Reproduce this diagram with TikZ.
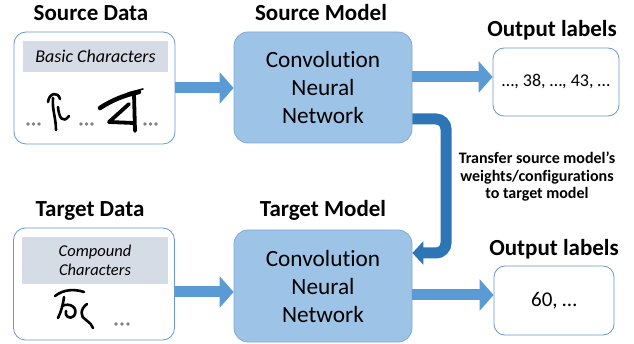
\documentclass[tikz,border=0pt]{standalone}
\usepackage{fontspec}
\setmainfont{Carlito}[Ligatures=NoCommon]
\usetikzlibrary{arrows.meta}
\definecolor{boxblue}{HTML}{9DC3E6}
\definecolor{modeledge}{HTML}{7FA9D8}
\definecolor{dataedge}{HTML}{6A98CF}
\definecolor{bandgray}{HTML}{D6DCE5}
\definecolor{flowblue}{HTML}{5B9BD5}
\definecolor{xferblue}{HTML}{2E75B6}
\definecolor{dotgray}{HTML}{7F7F7F}
\begin{document}
\begin{tikzpicture}[x=1pt,y=-1pt,
  title/.style={font=\fontsize{23}{27}\selectfont\bfseries, anchor=base, inner sep=0pt},
  databox/.style={draw=dataedge, line width=0.8pt, fill=white, rounded corners=12pt, minimum width=161pt, minimum height=112pt, inner sep=0pt},
  band/.style={fill=bandgray, inner sep=0pt, align=center},
  modelbox/.style={draw=modeledge, line width=0.8pt, fill=boxblue, rounded corners=14pt, minimum width=178pt, minimum height=111pt, inner sep=0pt, align=center, font=\fontsize{23.3}{28}\selectfont},
  outbox/.style={draw=dataedge, line width=0.8pt, fill=white, rounded corners=11pt, inner sep=0pt},
  flow/.style={draw=flowblue, line width=11pt, -{Triangle[width=31pt,length=14pt]}},
  xfer/.style={draw=xferblue, line width=11pt, rounded corners=10pt, -{Triangle[width=23pt,length=11pt]}},
  ink/.style={draw=black, line width=2.6pt, line cap=round, line join=round},
  dot/.style={fill=dotgray, draw=none}
]
\useasboundingbox (0,0) rectangle (634,344);

% titles
\node[title] (tsd) at (91,21) {Source Data};
\node[title] (ttd) at (90,217) {Target Data};
\node[title] (tsm) at (321,21) {Source Model};
\node[title] (ttm) at (323,217) {Target Model};
\node[title] (to1) at (552,37) {Output labels};
\node[title] (to2) at (554,256) {Output labels};

% data boxes
\node[databox] (sd) at (94.5,88) {};
\node[databox] (td) at (94,284) {};
\node[band, minimum width=145pt, minimum height=31pt, font=\fontsize{18}{21}\selectfont\itshape] (b1) at (95.5,56.5) {Basic Characters};
\node[band, minimum width=146pt, minimum height=47pt, font=\fontsize{16.5}{19.5}\selectfont\itshape] (b2) at (95,260.5) {Compound\\Characters};

% model boxes
\node[modelbox] (sm) at (323,87.5) {Convolution\\Neural\\Network};
\node[modelbox, minimum height=112pt] (tm) at (323,286) {Convolution\\Neural\\Network};

% output boxes
\node[outbox, minimum width=126pt, minimum height=68pt, font=\fontsize{18}{21}\selectfont] (o1) at (556,82) {…, 38, …, 43, …};
\node[outbox, minimum width=120pt, minimum height=69pt, font=\fontsize{21}{25}\selectfont] (o2) at (554,300.5) {60, …};

% transfer text
\node[font=\fontsize{16}{17.5}\selectfont\bfseries, align=center, inner sep=0pt] (xt) at (537,177) {Transfer source model’s\\weights/configurations\\to target model};

% connectors
\draw[flow] (sd.east) -- (sd.east -| sm.west);
\coordinate (s1) at ([yshift=10.5pt]sm.east);
\draw[flow] (s1) -- (s1 -| o1.west);
\coordinate (u1) at ([yshift=-8pt]td.east);
\draw[flow] (u1) -- (u1 -| tm.west);
\coordinate (v1) at ([yshift=-9pt]tm.east);
\draw[flow] (v1) -- (v1 -| o2.west);
\coordinate (t1) at ([yshift=-31.5pt]sm.east);
\coordinate (t2) at ([yshift=33pt]tm.east);
\coordinate (tc) at (446,0);
\draw[xfer] (t1) -- (t1 -| tc) -- (t2 -| tc) -- (t2);

% handwritten samples (source)
\foreach \x in {28,33.5,39,81,86.5,92,145,150.5,156} \fill[dot] (\x,124) circle (1.8pt);
\draw[ink] (48,102) .. controls (49,93) and (58,91) .. (60,99);
\draw[ink] (53,98) .. controls (52,110) and (56,118) .. (56,130);
\draw[ink] (58,107) .. controls (59,118) and (63,124) .. (69,116);
\draw[ink, line width=4.5pt] (100,108) .. controls (112,100) and (125,95) .. (139,92);
\draw[ink, line width=3.8pt] (134,94) -- (135,131);
\draw[ink, line width=3.8pt] (129,104) -- (109,122) -- (134,123);
\draw[ink, line width=1.6pt] (128,93) -- (143,89);

% handwritten samples (target)
\foreach \x in {116,122,128} \fill[dot] (\x,324) circle (1.8pt);
\draw[ink] (55,296) .. controls (64,289) and (75,289) .. (84,292);
\draw[ink] (64,297) .. controls (63,305) and (61,312) .. (58,318);
\draw[ink] (62,306) .. controls (70,302) and (79,308) .. (74,316) .. controls (70,320) and (64,316) .. (66,311);
\draw[ink] (87,304) .. controls (80,309) and (80,317) .. (86,320) .. controls (90,323) and (92,325) .. (93,328);
\end{tikzpicture}
\end{document}
